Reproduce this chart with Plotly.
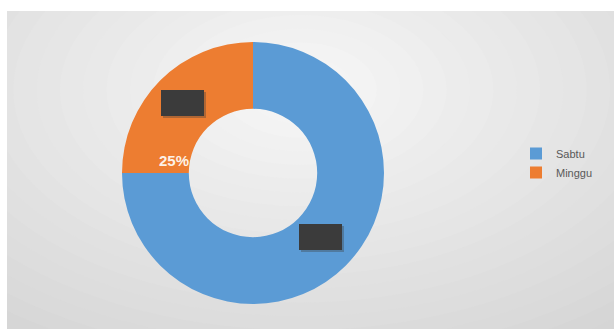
import plotly.graph_objects as go

labels = ["Sabtu", "Minggu"]
values = [75, 25]
colors = ["#5B9BD5", "#ED7D31"]

W, H = 614, 329

def px(x):
    return x / W

def py(y):
    return 1 - y / H

shapes = []
# chart area background (radial-ish gradient)
shapes.append(dict(type="rect", xref="paper", yref="paper", x0=px(7), x1=px(614), y0=py(329), y1=py(11),
                   fillcolor="#d0d0d0", line=dict(width=0), layer="below"))
cx, cy = 300, 90
n = 24
for i in range(n):
    t = (i + 1) / n
    rx = 560 * (1 - t) + 30
    ry = 330 * (1 - t) + 20
    g = int(round(0xd0 + (0xf6 - 0xd0) * t))
    c = f"#{g:02x}{g:02x}{g:02x}"
    shapes.append(dict(type="circle", xref="paper", yref="paper",
                       x0=px(cx - rx), x1=px(cx + rx),
                       y0=py(cy + ry), y1=py(cy - ry),
                       fillcolor=c, line=dict(width=0), layer="below"))
# white cover for top/left margins
shapes.append(dict(type="rect", xref="paper", yref="paper", x0=-0.1, x1=1.1, y0=py(11), y1=1.1,
                   fillcolor="white", line=dict(width=0), layer="below"))
shapes.append(dict(type="rect", xref="paper", yref="paper", x0=-0.1, x1=px(7), y0=-0.1, y1=1.1,
                   fillcolor="white", line=dict(width=0), layer="below"))

# redaction boxes over data labels
for (x0, y0) in [(161, 90), (299, 224)]:
    shapes.append(dict(type="rect", xref="paper", yref="paper", x0=px(x0 + 2), x1=px(x0 + 45),
                       y0=py(y0 + 28), y1=py(y0 + 2), fillcolor="rgba(60,60,60,0.35)", line=dict(width=0)))
    shapes.append(dict(type="rect", xref="paper", yref="paper", x0=px(x0), x1=px(x0 + 43),
                       y0=py(y0 + 26), y1=py(y0), fillcolor="#3b3b3b", line=dict(width=0)))

cxp, cyp, R = 253, 173, 131
fig = go.Figure(go.Pie(
    labels=labels, values=values, hole=0.49, sort=False, direction="clockwise", rotation=0,
    marker=dict(colors=colors, line=dict(width=0)), textinfo="none",
    domain=dict(x=[px(cxp - R), px(cxp + R)], y=[py(cyp + R), py(cyp - R)]),
))

pct = round(100 * values[1] / sum(values))
fig.add_annotation(x=px(174), y=py(160), xref="paper", yref="paper", xanchor="center", yanchor="middle",
                   text=f"<b>{pct}%</b>", showarrow=False,
                   font=dict(family="Liberation Sans Narrow, Liberation Sans", size=15, color="#fdf1e6"))

fig.update_layout(
    width=W, height=H, margin=dict(l=0, r=0, t=0, b=0, autoexpand=False),
    paper_bgcolor="white", plot_bgcolor="rgba(0,0,0,0)",
    shapes=shapes, showlegend=True,
    legend=dict(x=px(516), y=py(139), xanchor="left", yanchor="top", bgcolor="rgba(0,0,0,0)",
                font=dict(family="Liberation Sans, Arial", size=11, color="#595959"),
                itemwidth=30),
)
fig.write_html("out.html")
